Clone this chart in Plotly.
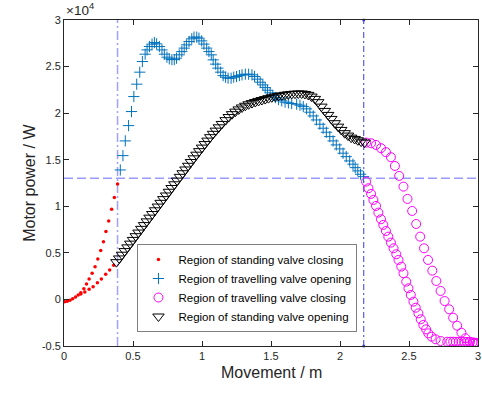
import plotly.graph_objects as go

# ---- data (power in units of 10^4 W, movement in m) ----
red_x = [0.005, 0.024, 0.043, 0.063, 0.084, 0.103, 0.122, 0.144, 0.163, 0.182, 0.204, 0.225, 0.245, 0.266,
         0.286, 0.304, 0.324, 0.345, 0.365, 0.388,
         0.122, 0.151, 0.182, 0.211, 0.242, 0.271, 0.302, 0.331, 0.360]
red_y = [-0.024, -0.020, -0.009, 0.008, 0.026, 0.048, 0.073, 0.115, 0.166, 0.220, 0.281, 0.352, 0.434, 0.524,
         0.620, 0.728, 0.843, 0.968, 1.093, 1.240,
         0.059, 0.080, 0.109, 0.137, 0.180, 0.220, 0.270, 0.316, 0.367]

blue_x = [0.408, 0.427, 0.444, 0.468, 0.489, 0.506, 0.527, 0.549, 0.568, 0.588, 0.602, 0.619, 0.638, 0.655,
          0.671, 0.691, 0.710, 0.727, 0.746, 0.763, 0.782, 0.799, 0.815, 0.835, 0.854, 0.871, 0.887, 0.906,
          0.926, 0.942, 0.962, 0.978, 0.998, 1.014, 1.034, 1.050, 1.067, 1.081, 1.099, 1.115, 1.135, 1.153,
          1.171, 1.189, 1.211, 1.230, 1.250, 1.271, 1.290, 1.314, 1.338, 1.362, 1.381, 1.403, 1.422, 1.441,
          1.458, 1.475, 1.494, 1.513, 1.532, 1.554, 1.578, 1.602, 1.626, 1.650, 1.686, 1.710, 1.734, 1.758,
          1.782, 1.806, 1.829, 1.854, 1.878, 1.901, 1.926, 1.950, 1.973, 1.998, 2.022, 2.045, 2.070, 2.094,
          2.110, 2.129, 2.149, 2.171]
blue_y = [1.390, 1.544, 1.702, 1.866, 2.017, 2.178, 2.311, 2.440, 2.554, 2.633, 2.679, 2.715, 2.741, 2.758,
          2.744, 2.715, 2.679, 2.633, 2.601, 2.583, 2.575, 2.575, 2.590, 2.626, 2.661, 2.698, 2.733, 2.769,
          2.798, 2.816, 2.816, 2.805, 2.776, 2.741, 2.698, 2.661, 2.626, 2.572, 2.526, 2.483, 2.440, 2.403,
          2.386, 2.375, 2.375, 2.386, 2.393, 2.403, 2.411, 2.418, 2.418, 2.411, 2.393, 2.365, 2.332, 2.303,
          2.274, 2.246, 2.218, 2.189, 2.167, 2.146, 2.132, 2.118, 2.110, 2.103, 2.096, 2.085, 2.070, 2.046,
          2.010, 1.970, 1.927, 1.881, 1.838, 1.795, 1.748, 1.702, 1.659, 1.616, 1.570, 1.533, 1.487, 1.452,
          1.415, 1.380, 1.344, 1.318]

mag_x = [2.189, 2.225, 2.261, 2.297, 2.333, 2.369, 2.398, 2.429, 2.460, 2.489, 2.523, 2.552, 2.581, 2.609,
         2.638, 2.669, 2.698, 2.729, 2.758, 2.791, 2.820, 2.849, 2.880, 2.909, 2.940, 2.969, 2.993,
         2.189, 2.206, 2.225, 2.242, 2.261, 2.278, 2.297, 2.314, 2.333, 2.350, 2.369, 2.388, 2.408, 2.424,
         2.444, 2.460, 2.480, 2.496, 2.513, 2.532, 2.549, 2.568, 2.585, 2.604, 2.624, 2.640, 2.664, 2.693,
         2.729, 2.777, 2.800, 2.820, 2.840, 2.860, 2.880, 2.900, 2.920, 2.940, 2.960, 2.980, 2.995]
mag_y = [1.684, 1.677, 1.659, 1.624, 1.581, 1.527, 1.433, 1.326, 1.211, 1.079, 0.950, 0.810, 0.674, 0.549,
         0.424, 0.309, 0.198, 0.091, -0.017, -0.106, -0.196, -0.282, -0.357, -0.417, -0.455, -0.470, -0.475,
         1.265, 1.194, 1.133, 1.068, 1.004, 0.932, 0.861, 0.800, 0.735, 0.674, 0.610, 0.549, 0.485, 0.424,
         0.352, 0.281, 0.191, 0.120, 0.048, -0.024, -0.089, -0.149, -0.213, -0.274, -0.321, -0.364, -0.400,
         -0.428, -0.446, -0.454, -0.454, -0.454, -0.455, -0.455, -0.455, -0.456, -0.456, -0.458, -0.460,
         -0.465, -0.470]

blk_x = [0.38, 0.40, 0.42, 0.44, 0.46, 0.48, 0.50, 0.52, 0.54, 0.56, 0.58, 0.60, 0.62, 0.64, 0.66, 0.68,
         0.70, 0.72, 0.74, 0.76, 0.78, 0.80, 0.82, 0.84, 0.86, 0.88, 0.90, 0.92, 0.94, 0.96, 0.98, 1.00,
         1.02, 1.04, 1.06, 1.08, 1.10, 1.122, 1.144, 1.171, 1.194, 1.218, 1.242, 1.266, 1.290, 1.314, 1.338,
         1.362, 1.386, 1.410, 1.434, 1.458, 1.482, 1.506, 1.530, 1.554, 1.578, 1.602, 1.626, 1.650, 1.674,
         1.698, 1.722, 1.746, 1.770, 1.793, 1.818, 1.842, 1.865, 1.890, 1.914, 1.937, 1.962, 1.986, 2.009,
         2.034, 2.058, 2.081, 2.106, 2.129, 2.153, 2.178]
blk_y = [0.400, 0.440, 0.480, 0.519, 0.559, 0.599, 0.639, 0.679, 0.718, 0.758, 0.798, 0.838, 0.878, 0.917,
         0.957, 0.997, 1.037, 1.077, 1.116, 1.156, 1.196, 1.236, 1.276, 1.316, 1.355, 1.395, 1.435, 1.475,
         1.515, 1.554, 1.592, 1.630, 1.668, 1.705, 1.742, 1.778, 1.812, 1.848, 1.884, 1.925, 1.958, 1.989,
         2.016, 2.040, 2.061, 2.079, 2.095, 2.108, 2.120, 2.131, 2.141, 2.151, 2.161, 2.170, 2.178, 2.185,
         2.191, 2.197, 2.202, 2.206, 2.209, 2.211, 2.211, 2.206, 2.196, 2.178, 2.153, 2.118, 2.070, 2.024,
         1.981, 1.938, 1.892, 1.855, 1.820, 1.785, 1.759, 1.737, 1.723, 1.709, 1.694, 1.684]

x_start_line = 0.388
x_end_line = 2.172
y_ref_line = 1.30

x_ticks = [0, 0.5, 1, 1.5, 2, 2.5, 3]
x_labels = ["0", "0.5", "1", "1.5", "2", "2.5", "3"]
y_ticks = [-0.5, 0, 0.5, 1, 1.5, 2, 2.5, 3]
y_labels = ["-0.5", "0", "0.5", "1", "1.5", "2", "2.5", "3"]

legend_names = ["Region of standing valve closing", "Region of travelling valve opening",
                "Region of travelling valve closing", "Region of standing valve opening"]

FONT = "Liberation Sans, Arial, sans-serif"
AX = "#262626"
W, H = 482, 393
ML, MR, MT, MB = 64, 1, 20, 47
plot_w = W - ML - MR
plot_h = H - MT - MB

fig = go.Figure()

# reference lines
fig.add_trace(go.Scatter(x=[0, 3], y=[y_ref_line, y_ref_line], mode="lines",
                         line=dict(color="#9a9aff", width=1.5, dash="9px,4px"),
                         showlegend=False, hoverinfo="skip"))
fig.add_trace(go.Scatter(x=[x_start_line, x_start_line], y=[-0.5, 3], mode="lines",
                         line=dict(color="#a0a0ff", width=1.5, dash="9px,3px,2px,3px"),
                         showlegend=False, hoverinfo="skip"))
fig.add_trace(go.Scatter(x=[x_end_line, x_end_line], y=[-0.5, 3], mode="lines+markers",
                         line=dict(color="#3a3ad8", width=1, dash="6px,3px,2px,3px"),
                         marker=dict(size=3, color="#3a3ad8"), cliponaxis=False,
                         showlegend=False, hoverinfo="skip"))

fig.add_trace(go.Scatter(x=red_x, y=red_y, mode="markers", name=legend_names[0],
                         marker=dict(symbol="circle", size=3.5, color="#ff0000")))
fig.add_trace(go.Scatter(x=blue_x, y=blue_y, mode="markers", name=legend_names[1],
                         marker=dict(symbol="cross-thin-open", size=8, color="#0072bd",
                                     line=dict(width=1, color="#0072bd"))))
fig.add_trace(go.Scatter(x=mag_x, y=mag_y, mode="markers", name=legend_names[2],
                         marker=dict(symbol="circle-open", size=9, color="#ff00ff",
                                     line=dict(width=1, color="#ff00ff"))))
fig.add_trace(go.Scatter(x=blk_x, y=blk_y, mode="markers", name=legend_names[3],
                         marker=dict(symbol="triangle-down-open", size=10, color="#000000",
                                     line=dict(width=1, color="#000000"))))

axis_common = dict(showgrid=False, zeroline=False, showline=True, linecolor=AX, linewidth=0.8,
                   ticks="inside", ticklen=5, tickcolor=AX, tickwidth=0.8, mirror="ticks",
                   ticklabeloverflow="allow",
                   tickfont=dict(family=FONT, size=11, color=AX))

fig.update_layout(
    width=W, height=H,
    margin=dict(l=ML, r=MR, t=MT, b=MB),
    paper_bgcolor="white", plot_bgcolor="white",
    xaxis=dict(range=[0, 3], tickvals=x_ticks, ticktext=x_labels, **axis_common),
    yaxis=dict(range=[-0.5, 3], tickvals=y_ticks, ticktext=y_labels, **axis_common),
    legend=dict(x=(138 - ML) / plot_w, y=(346 - 332) / plot_h, xanchor="left", yanchor="bottom",
                bgcolor="white", bordercolor="#7f7f7f", borderwidth=1,
                font=dict(family=FONT, size=11.5, color="#000000"),
                tracegroupgap=0, itemwidth=30),
    annotations=[
        dict(text="Movement / m", x=0.5, y=-(383 - 346) / plot_h, xref="paper", yref="paper",
             showarrow=False, font=dict(family=FONT, size=16, color=AX)),
        dict(text="Motor power / W", x=(18 - ML) / plot_w, y=(346 - 183) / plot_h,
             xref="paper", yref="paper", showarrow=False, textangle=-90,
             font=dict(family=FONT, size=16, color=AX)),
        dict(text="×10<sup>4</sup>", x=0, y=1, xref="paper", yref="paper", xanchor="left",
             yanchor="bottom", showarrow=False, font=dict(family=FONT, size=13.5, color=AX)),
    ],
)

fig.write_html("out.html", config={"displayModeBar": False},
               post_script="document.body.style.margin='0';")
